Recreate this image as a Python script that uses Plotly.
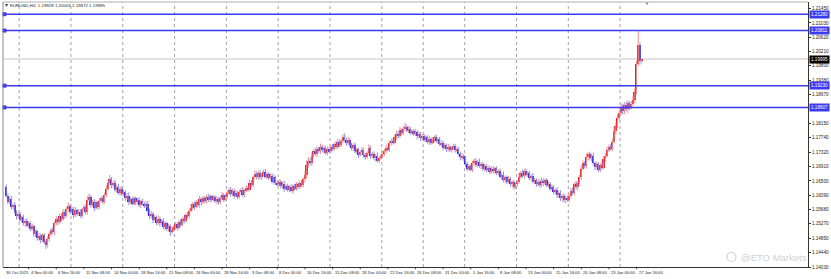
import plotly.graph_objects as go

# ---------------- data (EURUSD, H4) ----------------
first_open = 1.1632
close = [
    1.1608, 1.1590, 1.1598, 1.1575, 1.1582, 1.1560, 1.1548, 1.1555,
    1.1538, 1.1545, 1.1528, 1.1536, 1.1522, 1.1530,
    1.1512, 1.1520, 1.1498, 1.1505, 1.1485, 1.1492,
    1.1480, 1.1494, 1.1476, 1.1465, 1.1482, 1.1498,
    1.1510, 1.1502, 1.1528, 1.1540, 1.1532, 1.1550,
    1.1542, 1.1560, 1.1550, 1.1568, 1.1578, 1.1562,
    1.1570, 1.1552, 1.1566, 1.1555, 1.1562, 1.1550,
    1.1568, 1.1575, 1.1560, 1.1595, 1.1604, 1.1582,
    1.1590, 1.1572, 1.1588, 1.1575, 1.1592, 1.1600,
    1.1590, 1.1610, 1.1628, 1.1645, 1.1655, 1.1638,
    1.1645, 1.1625, 1.1632, 1.1615, 1.1628, 1.1612,
    1.1618, 1.1600, 1.1608, 1.1590, 1.1598, 1.1585,
    1.1600, 1.1588, 1.1595, 1.1580, 1.1592, 1.1585,
    1.1578, 1.1585, 1.1565, 1.1548, 1.1555, 1.1538,
    1.1545, 1.1530, 1.1542, 1.1528, 1.1536, 1.1518,
    1.1528, 1.1512, 1.1520, 1.1502, 1.1510, 1.1518,
    1.1525, 1.1515, 1.1532, 1.1524, 1.1540, 1.1535,
    1.1552, 1.1548, 1.1565, 1.1572, 1.1585, 1.1576,
    1.1588, 1.1580, 1.1598, 1.1588, 1.1600, 1.1592,
    1.1605, 1.1594, 1.1606, 1.1596, 1.1604, 1.1592,
    1.1598, 1.1588, 1.1602, 1.1610, 1.1596, 1.1605,
    1.1615, 1.1625, 1.1612, 1.1622, 1.1608, 1.1616,
    1.1605, 1.1618, 1.1624, 1.1610, 1.1622, 1.1630,
    1.1625, 1.1645, 1.1638, 1.1660, 1.1670, 1.1662,
    1.1672, 1.1660, 1.1668, 1.1675, 1.1662, 1.1670,
    1.1658, 1.1665, 1.1648, 1.1660, 1.1645, 1.1640,
    1.1648, 1.1635, 1.1642, 1.1628, 1.1636, 1.1625,
    1.1632, 1.1622, 1.1635, 1.1628, 1.1640, 1.1632,
    1.1645, 1.1638, 1.1655, 1.1668, 1.1695, 1.1708,
    1.1700, 1.1722, 1.1735, 1.1728, 1.1742, 1.1735,
    1.1748, 1.1738, 1.1745, 1.1730, 1.1740, 1.1735,
    1.1748, 1.1742, 1.1755, 1.1748, 1.1762, 1.1752,
    1.1765, 1.1775, 1.1768, 1.1760, 1.1768, 1.1752,
    1.1745, 1.1752, 1.1735, 1.1740, 1.1725, 1.1732,
    1.1738, 1.1725, 1.1718, 1.1730, 1.1745, 1.1722,
    1.1728, 1.1715, 1.1722, 1.1708, 1.1716, 1.1720,
    1.1728, 1.1735, 1.1745, 1.1740, 1.1758, 1.1765,
    1.1760, 1.1775, 1.1785, 1.1778, 1.1795, 1.1788,
    1.1800, 1.1805, 1.1795, 1.1800, 1.1788, 1.1792,
    1.1785, 1.1790, 1.1778, 1.1784, 1.1772, 1.1778,
    1.1768, 1.1775, 1.1762, 1.1770, 1.1760, 1.1768,
    1.1775, 1.1765, 1.1770, 1.1755, 1.1760, 1.1745,
    1.1752, 1.1740, 1.1748, 1.1738, 1.1745, 1.1750,
    1.1738, 1.1742, 1.1728, 1.1718, 1.1722, 1.1712,
    1.1698, 1.1685, 1.1692, 1.1682, 1.1700, 1.1708,
    1.1696, 1.1705, 1.1692, 1.1698, 1.1684, 1.1692,
    1.1680, 1.1688, 1.1676, 1.1685, 1.1678, 1.1686,
    1.1672, 1.1678, 1.1662, 1.1668, 1.1652, 1.1660,
    1.1648, 1.1656, 1.1640, 1.1646, 1.1632, 1.1640,
    1.1648, 1.1662, 1.1672, 1.1665, 1.1678, 1.1668,
    1.1672, 1.1658, 1.1664, 1.1648, 1.1652, 1.1640,
    1.1648, 1.1638, 1.1650, 1.1644, 1.1652, 1.1638,
    1.1642, 1.1628, 1.1632, 1.1618, 1.1624, 1.1610,
    1.1616, 1.1600, 1.1608, 1.1595, 1.1602, 1.1596,
    1.1608, 1.1622, 1.1615, 1.1640, 1.1632, 1.1645,
    1.1660, 1.1685, 1.1700, 1.1692, 1.1718, 1.1726,
    1.1715, 1.1722, 1.1700, 1.1690, 1.1698, 1.1682,
    1.1695, 1.1688, 1.1712, 1.1722, 1.1738, 1.1748,
    1.1742, 1.1762, 1.1792, 1.1808, 1.1830, 1.1845,
    1.1862, 1.1850, 1.1868, 1.1856, 1.1872, 1.1862,
    1.1870, 1.1882, 1.1905, 1.1985, 1.2040, 1.1993,
    1.19995,
]
# upper / lower wick lengths in pips, read per bar
wick_up = [
    8, 6, 5, 9, 4, 7, 6, 5,
    6, 4, 8, 5, 7, 4,  5, 8, 4, 6, 5, 9,  7, 5, 6, 4, 9, 6,
    5, 8, 6, 9, 4, 7,  6, 9, 5, 7, 10, 5,  6, 5, 9, 4, 7, 6,
    5, 7, 6, 12, 10, 6,  5, 8, 6, 5, 9, 6,  7, 6, 9, 8, 12, 6,
    5, 8, 6, 9, 5, 7,  6, 5, 7, 9, 5, 6,  7, 5, 6, 9, 4, 7,
    5, 6, 8, 5, 9, 6,  7, 5, 9, 6, 5, 7,  6, 5, 7, 6, 9, 5,
    7, 6, 5, 9, 6, 7,  5, 8, 6, 9, 5, 6,  7, 6, 9, 5, 7, 6,
    5, 8, 6, 4, 6, 5,  8, 5, 6, 9, 5, 6,  9, 6, 7, 5, 6, 8,
    5, 7, 6, 9, 5, 7,  6, 9, 7, 6, 10, 7,  6, 9, 5, 7, 9, 6,
    5, 7, 6, 9, 5, 6,  7, 5, 6, 8, 5, 6,  6, 8, 5, 6, 7, 5,
    6, 7, 5, 9, 14, 10,  8, 9, 6, 10, 7, 6,  9, 6, 7, 5, 8, 6,
    6, 8, 5, 9, 10, 6,  7, 9, 11, 6, 8, 5,  6, 5, 8, 6, 5, 7,
    9, 7, 5, 6, 10, 6,  5, 7, 6, 9, 5, 6,  7, 6, 9, 5, 7, 6,
    7, 6, 9, 8, 10, 6,  9, 11, 6, 7, 5, 6,  6, 8, 5, 9, 6, 5,
    7, 5, 6, 9, 5, 7,  6, 8, 5, 6, 7, 5,  6, 5, 8, 6, 5, 7,
    6, 7, 5, 6, 8, 5,  9, 6, 7, 5, 8, 6,  7, 5, 9, 6, 5, 7,
    6, 7, 5, 6, 8, 5,  6, 5, 7, 6, 9, 5,  6, 8, 5, 6, 7, 6,
    5, 9, 7, 10, 6, 8,  6, 7, 5, 9, 6, 5,  7, 6, 9, 7, 5, 6,
    6, 5, 7, 6, 5, 8,  6, 7, 5, 6, 8, 5,  6, 8, 9, 6, 10, 5,
    7, 10, 9, 7, 11, 6,  8, 6, 9, 5, 7, 6,  6, 8, 9, 7, 10, 6,
    7, 9, 12, 9, 10, 7,  11, 9, 7, 10, 9, 7,  9, 12, 10, 9, 40, 7,
    1,
]
wick_dn = [
    6, 7, 5, 6, 8, 5, 9, 6,
    5, 7, 6, 9, 5, 7,  6, 5, 8, 9, 6, 7,  9, 6, 7, 10, 5, 6,
    6, 5, 8, 6, 9, 5,  7, 6, 9, 5, 6, 8,  5, 9, 6, 7, 5, 6,
    8, 5, 6, 7, 5, 9,  6, 9, 5, 7, 6, 5,  6, 5, 7, 6, 5, 9,
    7, 6, 9, 5, 7, 6,  5, 7, 6, 9, 7, 5,  6, 7, 5, 6, 9, 5,
    6, 5, 9, 7, 6, 9,  5, 7, 6, 9, 5, 7,  9, 6, 7, 10, 5, 6,
    6, 7, 5, 6, 5, 7,  6, 5, 7, 5, 6, 9,  5, 6, 7, 9, 5, 6,
    7, 5, 6, 7, 5, 6,  9, 6, 5, 7, 6, 5,  6, 5, 7, 6, 9, 5,
    7, 6, 5, 7, 6, 5,  6, 5, 7, 6, 5, 7,  9, 6, 7, 5, 6, 7,
    6, 7, 5, 9, 7, 6,  5, 7, 6, 9, 5, 6,  7, 5, 9, 6, 7, 5,
    6, 5, 7, 9, 10, 7,  6, 7, 5, 6, 9, 5,  7, 6, 9, 5, 7, 6,
    6, 7, 5, 6, 7, 6,  5, 7, 6, 9, 7, 6,  7, 9, 6, 7, 9, 5,
    6, 9, 7, 5, 6, 9,  7, 6, 9, 5, 7, 6,  5, 7, 6, 5, 7, 6,
    6, 5, 7, 6, 5, 7,  6, 7, 5, 9, 6, 7,  7, 6, 9, 5, 7, 6,
    6, 7, 5, 9, 6, 5,  7, 6, 9, 5, 6, 7,  5, 7, 6, 5, 7, 6,
    7, 5, 6, 9, 7, 6,  9, 7, 6, 5, 7, 6,  6, 7, 5, 9, 6, 7,
    5, 6, 7, 5, 6, 9,  6, 7, 5, 9, 6, 7,  7, 5, 6, 9, 7, 6,
    6, 7, 5, 6, 9, 5,  7, 6, 9, 5, 6, 7,  5, 7, 6, 9, 5, 6,
    7, 6, 5, 7, 6, 9,  6, 7, 9, 7, 10, 6,  7, 6, 5, 7, 6, 9,
    6, 7, 5, 6, 7, 9,  6, 9, 7, 10, 6, 7,  7, 6, 5, 7, 6, 5,
    6, 7, 5, 9, 6, 7,  7, 10, 9, 7, 11, 9,  7, 6, 9, 7, 6, 10,
    6,
]
week_start_bars = [8, 38, 68, 98, 128, 158, 188, 218, 242, 266, 296, 326, 356]
x_labels = ["30 Oct 2025", "4 Nov 00:00", "6 Nov 16:00", "11 Nov 08:00", "14 Nov 00:00",
            "18 Nov 16:00", "21 Nov 08:00", "26 Nov 00:00", "28 Nov 16:00", "3 Dec 08:00",
            "8 Dec 00:00", "10 Dec 16:00", "15 Dec 08:00", "18 Dec 00:00", "22 Dec 16:00",
            "26 Dec 08:00", "31 Dec 00:00", "5 Jan 16:00", "8 Jan 08:00", "13 Jan 00:00",
            "15 Jan 16:00", "20 Jan 08:00", "23 Jan 00:00", "27 Jan 16:00"]
y_ticks = [1.14030, 1.14440, 1.14850, 1.15270, 1.15680, 1.16090, 1.16500, 1.16910,
           1.17320, 1.17740, 1.18150, 1.18970, 1.19380, 1.19800, 1.20210, 1.20620,
           1.21030, 1.21450]
levels = [1.21280, 1.20811, 1.19230, 1.18607]
last_price = 1.19995
header = "EURUSD,H4  1.19928 1.20003 1.19872 1.19995"

# ---------------- derived ----------------
n = len(close)
idx = list(range(n))
opens = [first_open] + close[:-1]
highs = [max(o, c) + u * 1e-4 for o, c, u in zip(opens, close, wick_up)]
lows = [min(o, c) - d * 1e-4 for o, c, d in zip(opens, close, wick_dn)]
label_bars = [0] + [14 + 16 * k for k in range(len(x_labels) - 1)]

UP, DN = "#e8202a", "#1f1fdc"
UPW, DNW = "#f08c8c", "#8c8ef2"
LVL = "#3a3af0"
FONT = "Liberation Sans"

W, H = 831, 279
PX0, PX1, PY0, PY1 = 3, 808, 2, 267
XR = [-1.85, 464.3]
YR = [1.1403, 1.2163]


def px(xp):
    return (xp - PX0) / (PX1 - PX0)


def py(yp):
    return (PY1 - yp) / (PY1 - PY0)


fig = go.Figure()

# wicks
for up, col in ((True, UPW), (False, DNW)):
    wx, wy = [], []
    for i in idx:
        if (close[i] >= opens[i]) == up:
            wx += [i, i, None]
            wy += [lows[i], highs[i], None]
    fig.add_trace(go.Scatter(x=wx, y=wy, mode="lines", line=dict(color=col, width=1),
                             hoverinfo="skip", showlegend=False))

# bodies
fig.add_trace(go.Bar(
    x=idx,
    y=[max(abs(c - o), 0.00004) for o, c in zip(opens, close)],
    base=[min(o, c) for o, c in zip(opens, close)],
    marker=dict(color=[UP if c >= o else DN for o, c in zip(opens, close)], line=dict(width=0)),
    width=0.95, showlegend=False, hoverinfo="skip"))

# level end squares
fig.add_trace(go.Scatter(x=[XR[0] + 0.8] * len(levels), y=levels, mode="markers",
                         marker=dict(symbol="square", size=4, color=LVL),
                         cliponaxis=False, showlegend=False, hoverinfo="skip"))

shapes = []
for b in week_start_bars:
    shapes.append(dict(type="line", xref="x", yref="paper", x0=b - 0.5, x1=b - 0.5, y0=0, y1=1,
                       line=dict(color="#a2a2a2", width=1, dash="dot"), layer="below"))
shapes.append(dict(type="line", xref="paper", yref="y", x0=0, x1=1, y0=last_price, y1=last_price,
                   line=dict(color="#c4c4c4", width=1), layer="below"))
for v in levels:
    shapes.append(dict(type="line", xref="paper", yref="y", x0=0, x1=1, y0=v, y1=v,
                       line=dict(color=LVL, width=1.5)))
# frame (left/top)
shapes.append(dict(type="line", xref="paper", yref="paper", x0=0, x1=0, y0=0, y1=1,
                   line=dict(color="#8c8c8c", width=1)))
shapes.append(dict(type="line", xref="paper", yref="paper", x0=0, x1=1, y0=1, y1=1,
                   line=dict(color="#b0b0b0", width=1)))
# small x tick marks
for b in label_bars[1:]:
    shapes.append(dict(type="line", xref="x", yref="paper", x0=b - 1, x1=b - 1, y0=0, y1=-0.008,
                       line=dict(color="#333", width=1)))

ann = []
for b, t in zip(label_bars, x_labels):
    ann.append(dict(xref="x", yref="paper", x=max(b - 1, XR[0]), y=0, yshift=-1, text=t,
                    showarrow=False, xanchor="left", yanchor="top",
                    font=dict(size=4.1, color="#222", family=FONT)))
for v in levels:
    ann.append(dict(xref="paper", yref="y", x=1, y=v, xshift=1, text=f"{v:.5f}", showarrow=False,
                    xanchor="left", yanchor="middle", bgcolor=LVL, borderpad=1,
                    font=dict(size=4.6, color="white", family=FONT)))
ann.append(dict(xref="paper", yref="y", x=1, y=last_price, xshift=1, text=f"{last_price:.5f}",
                showarrow=False, xanchor="left", yanchor="middle", bgcolor="#000", borderpad=1,
                font=dict(size=4.6, color="white", family=FONT)))
ann.append(dict(xref="paper", yref="paper", x=px(8), y=py(5.5), text=header, showarrow=False,
                xanchor="left", yanchor="middle", font=dict(size=4.4, color="#222", family=FONT)))
ann.append(dict(xref="paper", yref="paper", x=px(3.2), y=py(5.5), text="▾", showarrow=False,
                xanchor="left", yanchor="middle", font=dict(size=6, color="#444", family=FONT)))
ann.append(dict(xref="paper", yref="paper", x=px(647), y=py(3), text="▼", showarrow=False,
                xanchor="center", yanchor="middle", font=dict(size=4, color="#666", family=FONT)))
ann.append(dict(xref="paper", yref="paper", x=px(739), y=py(257), text="@ETO Markets", showarrow=False,
                xanchor="left", yanchor="middle", font=dict(size=9.5, color="#d0d0d0", family=FONT)))
shapes.append(dict(type="circle", xref="paper", yref="paper", x0=px(727), x1=px(736),
                   y0=py(261.5), y1=py(252.5), line=dict(color="#d0d0d0", width=1.2)))

fig.update_layout(
    width=W, height=H,
    margin=dict(l=PX0, r=W - PX1, t=PY0, b=H - PY1, pad=0),
    paper_bgcolor="white", plot_bgcolor="white",
    showlegend=False, bargap=0,
    shapes=shapes, annotations=ann,
    xaxis=dict(range=XR, showgrid=False, zeroline=False, showticklabels=False, ticks="",
               showline=True, linecolor="#333", linewidth=1, fixedrange=True),
    yaxis=dict(range=YR, side="right", showgrid=False, zeroline=False,
               tickvals=y_ticks, ticktext=[f"{v:.5f}" for v in y_ticks],
               ticks="outside", ticklen=2, tickcolor="#333", tickwidth=1,
               tickfont=dict(size=4.6, color="#222", family=FONT),
               showline=True, linecolor="#333", linewidth=1, fixedrange=True),
)

fig.write_html("out.html")
